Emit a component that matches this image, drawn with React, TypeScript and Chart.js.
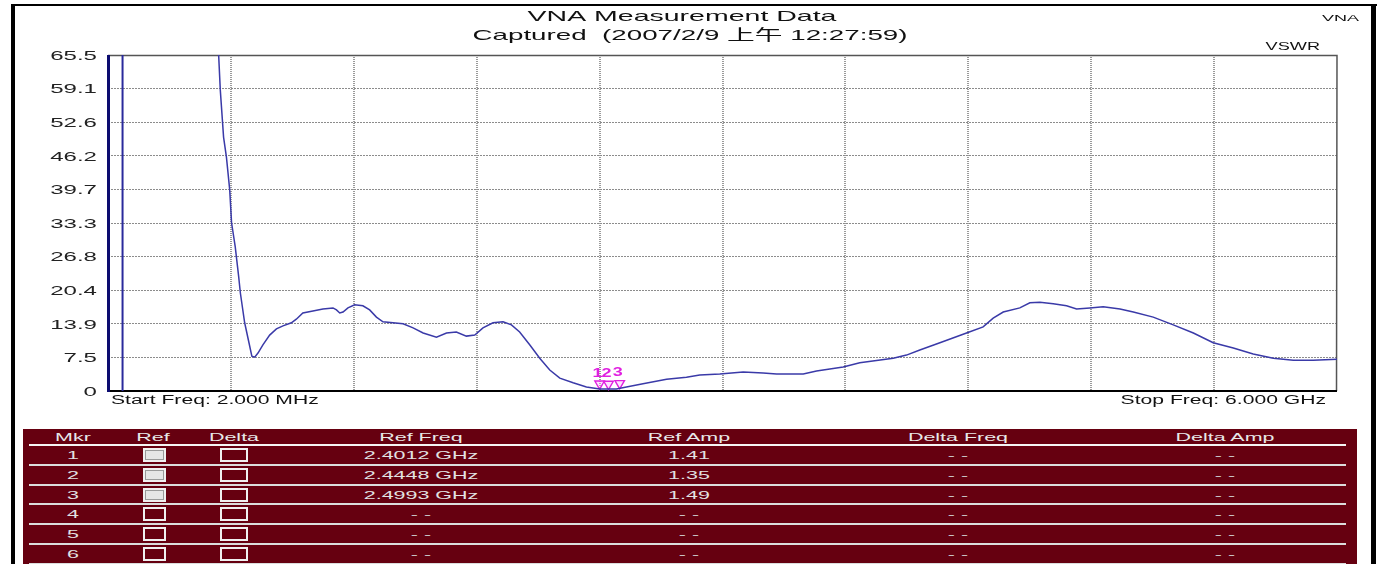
import React, { useEffect, useRef } from "react";
import { Chart, registerables } from "chart.js";

Chart.register(...registerables);

// ---------- data ----------
const titleLines = ["VNA Measurement Data", "Captured  (2007/2/9 上午 12:27:59)"];
const cornerLabel = "VNA";
const unitLabel = "VSWR";
const startLabel = "Start Freq: 2.000 MHz";
const stopLabel = "Stop Freq: 6.000 GHz";

const xStartGHz = 0.002;
const xStopGHz = 6;
const yMax = 65.5;
const yTickLabels = ["0", "7.5", "13.9", "20.4", "26.8", "33.3", "39.7", "46.2", "52.6", "59.1", "65.5"];

// main trace (GHz, VSWR)
const traceFreq = [
  0.536, 0.542, 0.55, 0.566, 0.58, 0.596, 0.605, 0.623, 0.64, 0.648, 0.669, 0.69, 0.704, 0.718, 0.734,
  0.758, 0.791, 0.824, 0.856, 0.897, 0.921, 0.953, 1.002, 1.051, 1.1, 1.117, 1.133, 1.149, 1.173, 1.206,
  1.246, 1.279, 1.312, 1.344, 1.393, 1.442, 1.491, 1.54, 1.605, 1.654, 1.702, 1.751, 1.792, 1.832, 1.881,
  1.93, 1.971, 2.011, 2.06, 2.109, 2.158, 2.207, 2.272, 2.337, 2.402, 2.483, 2.532, 2.613, 2.728, 2.825,
  2.89, 2.988, 3.102, 3.199, 3.265, 3.395, 3.46, 3.59, 3.671, 3.834, 3.899, 3.964, 4.062, 4.192, 4.273,
  4.322, 4.371, 4.452, 4.501, 4.55, 4.615, 4.68, 4.729, 4.794, 4.859, 4.941, 5.006, 5.103, 5.201, 5.299,
  5.396, 5.494, 5.591, 5.689, 5.787, 5.884, 6.0,
];
const traceVswr = [
  70, 65.5, 58.7, 49.5, 45.6, 39.2, 32.8, 28.1, 22.2, 19.1, 13.3, 9.4, 6.8, 6.6, 7.4,
  9.0, 10.9, 12.1, 12.7, 13.3, 14.0, 15.2, 15.6, 16.0, 16.2, 15.8, 15.2, 15.4, 16.2, 16.8,
  16.6, 15.8, 14.4, 13.5, 13.3, 13.1, 12.3, 11.3, 10.5, 11.3, 11.5, 10.7, 10.9, 12.3, 13.3,
  13.5, 12.9, 11.5, 9.0, 6.4, 4.1, 2.5, 1.6, 0.8, 0.4, 0.4, 0.8, 1.4, 2.3, 2.7,
  3.1, 3.3, 3.7, 3.5, 3.3, 3.3, 3.9, 4.7, 5.5, 6.4, 7.0, 8.0, 9.4, 11.3, 12.5,
  14.2, 15.4, 16.2, 17.2, 17.3, 17.0, 16.6, 16.0, 16.2, 16.4, 16.0, 15.4, 14.4, 12.9, 11.3,
  9.4, 8.4, 7.2, 6.4, 6.0, 6.0, 6.2,
];

// off-scale low-frequency segment
const lowBandFreq = [0.073, 0.073];
const lowBandVswr = [0, 99];

// markers
const markerIds = ["1", "2", "3"];
const markerFreq = [2.4012, 2.4448, 2.4993];
const markerAmp = [1.41, 1.35, 1.49];

// marker table
const tableHeaders = ["Mkr", "Ref", "Delta", "Ref Freq", "Ref Amp", "Delta Freq", "Delta Amp"];
const tableMkr = ["1", "2", "3", "4", "5", "6"];
const tableRefOn = [true, true, true, false, false, false];
const tableRefFreq = ["2.4012 GHz", "2.4448 GHz", "2.4993 GHz", "- -", "- -", "- -"];
const tableRefAmp = ["1.41", "1.35", "1.49", "- -", "- -", "- -"];
const tableDeltaFreq = ["- -", "- -", "- -", "- -", "- -", "- -"];
const tableDeltaAmp = ["- -", "- -", "- -", "- -", "- -", "- -"];

// ---------- helpers ----------
const FONT = "'Liberation Sans', Arial, 'Noto Sans CJK TC', sans-serif";

function stretchText(
  ctx: CanvasRenderingContext2D,
  text: string,
  x: number,
  y: number,
  align: CanvasTextAlign,
  sx: number,
  size: number,
  color: string,
  weight = "normal"
) {
  ctx.save();
  ctx.font = `${weight} ${size}px ${FONT}`;
  ctx.fillStyle = color;
  ctx.textAlign = align;
  ctx.textBaseline = "alphabetic";
  ctx.translate(x, y);
  ctx.scale(sx, 1);
  ctx.fillText(text, 0, 0);
  ctx.restore();
}

const decorPlugin = {
  id: "vnaDecor",
  beforeDatasetsDraw(chart: any) {
    const { ctx, chartArea: a } = chart;
    ctx.save();
    ctx.strokeStyle = "#555";
    ctx.lineWidth = 1.5;
    ctx.beginPath();
    ctx.moveTo(a.left, a.top + 0.5);
    ctx.lineTo(a.right, a.top + 0.5);
    ctx.lineTo(a.right - 0.5, a.bottom);
    ctx.stroke();
    ctx.strokeStyle = "#000";
    ctx.lineWidth = 2;
    ctx.beginPath();
    ctx.moveTo(a.left, a.bottom);
    ctx.lineTo(a.right, a.bottom);
    ctx.stroke();
    ctx.strokeStyle = "#0c0c70";
    ctx.lineWidth = 3;
    ctx.beginPath();
    ctx.moveTo(a.left + 0.5, a.top);
    ctx.lineTo(a.left + 0.5, a.bottom + 1);
    ctx.stroke();
    ctx.restore();
  },
  afterDraw(chart: any) {
    const { ctx, chartArea: a } = chart;
    const yScale = chart.scales.y;
    stretchText(ctx, titleLines[0], 667, 15, "center", 1.9, 15, "#111");
    stretchText(ctx, titleLines[1], 675, 33.5, "center", 1.85, 15, "#111");
    stretchText(ctx, cornerLabel, 1344, 15, "right", 2.0, 9, "#111");
    stretchText(ctx, unitLabel, a.right - 17, a.top - 5.5, "right", 1.65, 11, "#111");
    yTickLabels.forEach((lab, i) => {
      const y = yScale.getPixelForValue((i * yMax) / 10);
      stretchText(ctx, lab, a.left - 11, y + 4.7, "right", 1.85, 13, "#222");
    });
    stretchText(ctx, startLabel, a.left + 3, a.bottom + 13.3, "left", 1.76, 12, "#111");
    stretchText(ctx, stopLabel, a.right - 11, a.bottom + 13, "right", 1.76, 12, "#111");
    const meta = chart.getDatasetMeta(2);
    meta.data.forEach((pt: any, i: number) => {
      stretchText(ctx, markerIds[i], pt.x - 2, pt.y - 7, "center", 1.5, 12, "#e020e0", "bold");
    });
  },
};

function GridChart() {
  const ref = useRef<HTMLCanvasElement>(null);
  useEffect(() => {
    if (!ref.current) return;
    const chart = new Chart(ref.current, {
      type: "line",
      data: {
        datasets: [
          {
            label: "VSWR",
            data: traceFreq.map((f, i) => ({ x: f, y: traceVswr[i] })),
            borderColor: "#3a3aa8",
            borderWidth: 1.5,
            pointRadius: 0,
            tension: 0,
          },
          {
            label: "low band",
            data: lowBandFreq.map((f, i) => ({ x: f, y: lowBandVswr[i] })),
            borderColor: "#2a2a9c",
            borderWidth: 2,
            pointRadius: 0,
          },
          {
            label: "markers",
            data: markerFreq.map((f, i) => ({ x: f, y: markerAmp[i] })),
            showLine: false,
            pointStyle: "triangle",
            rotation: 180,
            pointRadius: 5.5,
            borderColor: "#e020e0",
            backgroundColor: "rgba(255,170,255,0.35)",
            borderWidth: 1.4,
          },
        ],
      },
      options: {
        animation: false,
        responsive: false,
        devicePixelRatio: 1,
        layout: { padding: { left: 93, top: 49, right: 34, bottom: 31 } },
        plugins: {
          legend: { display: false },
          title: { display: false },
          tooltip: { enabled: false },
        },
        scales: {
          x: {
            type: "linear",
            min: xStartGHz,
            max: xStopGHz,
            afterBuildTicks: (axis: any) => {
              axis.ticks = Array.from({ length: 11 }, (_, i) => ({
                value: xStartGHz + (i * (xStopGHz - xStartGHz)) / 10,
              }));
            },
            ticks: { display: false },
            grid: {
              drawTicks: false,
              lineWidth: 2,
              color: (c: any) => (c.index === 0 || c.index === 10 ? "rgba(0,0,0,0)" : "#9a9a9a"),
            },
            border: { display: false, dash: [1, 1] },
          },
          y: {
            type: "linear",
            min: 0,
            max: yMax,
            afterBuildTicks: (axis: any) => {
              axis.ticks = yTickLabels.map((_, i) => ({ value: (i * yMax) / 10 }));
            },
            ticks: { display: false },
            grid: {
              drawTicks: false,
              lineWidth: 1,
              color: (c: any) => (c.index === 0 || c.index === 10 ? "rgba(0,0,0,0)" : "#8c8c8c"),
            },
            border: { display: false, dash: [2, 1] },
          },
        },
      } as any,
      plugins: [decorPlugin],
    });
    return () => chart.destroy();
  }, []);
  return (
    <canvas
      ref={ref}
      width={1356}
      height={416}
      style={{ position: "absolute", left: 15, top: 6, width: 1356, height: 416 }}
    />
  );
}

const TABLE_LEFT = 23;
const TABLE_TOP = 429;
const colCenters = [73, 153, 234, 421, 689, 958, 1225];
const HEADER_H = 16;
const ROW_H = 19.8;

function Txt({ cx, cy, text, color = "#e2e2e2" }: { cx: number; cy: number; text: string; color?: string }) {
  return (
    <span
      style={{
        position: "absolute",
        left: cx - TABLE_LEFT - 150,
        top: cy - TABLE_TOP - 8,
        width: 300,
        height: 16,
        lineHeight: "16px",
        textAlign: "center",
        fontFamily: FONT,
        fontSize: 11,
        color,
        whiteSpace: "nowrap",
        transform: "scaleX(1.95)",
      }}
    >
      {text}
    </span>
  );
}

function MarkerTable() {
  const dim = "#cfcfcf";
  const rows = tableMkr.map((m, i) => {
    const top = HEADER_H + i * ROW_H;
    const cy = TABLE_TOP + top + ROW_H / 2;
    return (
      <React.Fragment key={m}>
        <Txt cx={colCenters[0]} cy={cy} text={m} />
        <div
          style={{
            position: "absolute",
            left: 143 - TABLE_LEFT,
            top: top + 3,
            width: 23,
            height: 14,
            boxSizing: "border-box",
            border: "2px solid #f0f0f0",
            background: tableRefOn[i] ? "#e6e6e6" : "transparent",
            boxShadow: tableRefOn[i] ? "inset 0 0 0 1px #9a9a9a" : "none",
          }}
        />
        <div
          style={{
            position: "absolute",
            left: 220 - TABLE_LEFT,
            top: top + 3,
            width: 28,
            height: 14,
            boxSizing: "border-box",
            border: "2px solid #f0f0f0",
          }}
        />
        <Txt cx={colCenters[3]} cy={cy} text={tableRefFreq[i]} color={tableRefFreq[i] === "- -" ? dim : "#e2e2e2"} />
        <Txt cx={colCenters[4]} cy={cy} text={tableRefAmp[i]} color={tableRefAmp[i] === "- -" ? dim : "#e2e2e2"} />
        <Txt cx={colCenters[5]} cy={cy} text={tableDeltaFreq[i]} color={dim} />
        <Txt cx={colCenters[6]} cy={cy} text={tableDeltaAmp[i]} color={dim} />
        <div
          style={{
            position: "absolute",
            left: 29 - TABLE_LEFT,
            top: top + ROW_H - 1,
            width: 1346 - 29,
            height: 2,
            background: "#dcdcdc",
          }}
        />
      </React.Fragment>
    );
  });
  return (
    <div
      style={{
        position: "absolute",
        left: TABLE_LEFT,
        top: TABLE_TOP,
        width: 1357 - TABLE_LEFT,
        height: 150,
        background: "#660010",
        overflow: "hidden",
      }}
    >
      {tableHeaders.map((h, i) => (
        <Txt key={h} cx={colCenters[i]} cy={437} text={h} color="#e8e8e8" />
      ))}
      <div
        style={{
          position: "absolute",
          left: 29 - TABLE_LEFT,
          top: HEADER_H - 1,
          width: 1346 - 29,
          height: 2,
          background: "#f4f4f4",
        }}
      />
      {rows}
    </div>
  );
}

export default function App() {
  return (
    <div
      style={{
        position: "absolute",
        left: 0,
        top: 0,
        width: 1385,
        height: 564,
        overflow: "hidden",
        background: "#fff",
      }}
    >
      <div style={{ position: "absolute", left: 11, top: 4, width: 1366, height: 2, background: "#000" }} />
      <div style={{ position: "absolute", left: 11, top: 4, width: 4, height: 600, background: "#000" }} />
      <div style={{ position: "absolute", left: 1371, top: 4, width: 5, height: 600, background: "#000" }} />
      <GridChart />
      <MarkerTable />
    </div>
  );
}
